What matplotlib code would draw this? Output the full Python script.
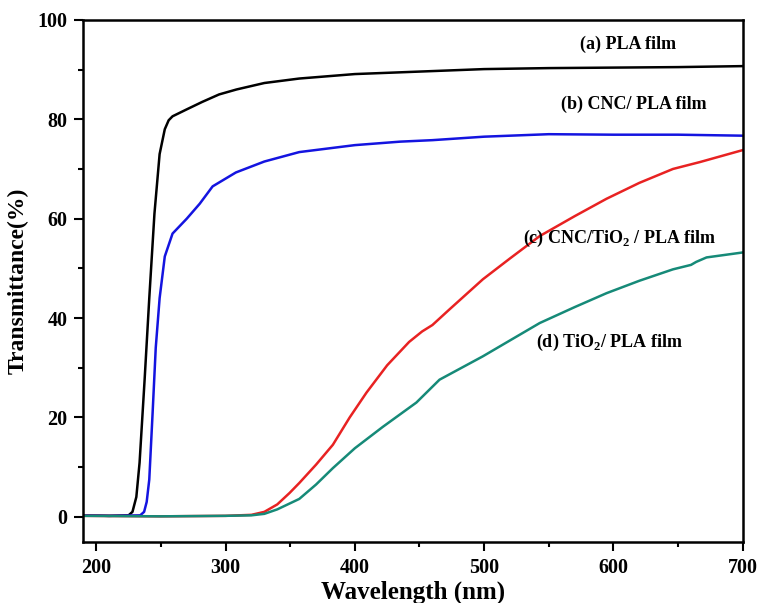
import matplotlib
matplotlib.use("Agg")
import matplotlib.pyplot as plt
from matplotlib.ticker import MultipleLocator

plt.rcParams['font.family'] = 'Liberation Serif'
plt.rcParams['font.weight'] = 'bold'
plt.rcParams['mathtext.fontset'] = 'custom'
plt.rcParams['mathtext.rm'] = 'Liberation Serif:bold'

# values (wavelength nm, transmittance %)
pla_x = [190, 210, 225, 228, 231, 233.5, 237.4, 241, 245, 249, 253, 256, 259,
         270, 282, 295, 308.5, 330, 357, 400, 450, 500, 550, 600, 650, 700]
pla_y = [0.3, 0.2, 0.3, 1.0, 4.0, 10.9, 27.6, 44, 61, 73, 78, 79.8, 80.6,
         82, 83.5, 85, 86, 87.3, 88.2, 89.1, 89.6, 90.1, 90.3, 90.4, 90.5, 90.7]

cnc_x = [190, 210, 234, 237, 239, 241, 243.6, 246, 249, 253, 259, 270, 280,
         290, 308, 330, 357, 400, 435, 460, 500, 550, 600, 650, 700]
cnc_y = [0.3, 0.2, 0.3, 1.0, 3.0, 7.5, 21, 34, 44, 52.4, 57, 60, 63,
         66.5, 69.3, 71.5, 73.4, 74.8, 75.5, 75.8, 76.5, 77.0, 76.9, 76.9, 76.7]

tio2cnc_x = [190, 250, 300, 320, 330, 340, 349.5, 357, 370, 383, 396, 409,
             425, 442, 452, 460, 473, 499, 520, 543, 570, 594.6, 620, 646,
             667, 700]
tio2cnc_y = [0.2, 0.1, 0.2, 0.4, 1.0, 2.5, 4.8, 6.8, 10.5, 14.5, 20, 25,
             30.5, 35.2, 37.3, 38.6, 41.7, 47.8, 52, 56.5, 60.5, 64, 67.2, 70,
             71.4, 73.8]

tio2_x = [190, 250, 300, 320, 330, 340, 357, 370, 383, 400, 421.6, 447.6,
          465.5, 499, 520, 543, 570, 594.6, 620, 646, 660, 664, 672, 700]
tio2_y = [0.2, 0.1, 0.2, 0.3, 0.6, 1.5, 3.6, 6.5, 9.8, 13.8, 18.1, 23,
          27.6, 32.3, 35.5, 39, 42.2, 45, 47.5, 49.8, 50.7, 51.3, 52.2, 53.2]

labels = ['(a) PLA film', '(b) CNC/ PLA film',
          '(c) CNC/TiO$_2$ / PLA film', '(d) TiO$_2$/ PLA film']
label_x = [611, 616, 605, 597]
label_y = [95, 83, 56, 35]

fig = plt.figure(figsize=(7.61, 6.03), dpi=100)
ax = fig.add_axes([0.1095, 0.1017, 0.8665, 0.8653])

ax.plot(pla_x, pla_y, color='black', lw=1.8)
ax.plot(cnc_x, cnc_y, color='#1414e0', lw=1.8)
ax.plot(tio2cnc_x, tio2cnc_y, color='#e82222', lw=1.8)
ax.plot(tio2_x, tio2_y, color='#168a78', lw=1.8)

for t, x, y in zip(labels, label_x, label_y):
    ax.text(x, y, t, ha='center', va='center', fontsize=13, fontweight='bold')

ax.set_xlim(190, 700)
ax.set_ylim(-5, 100)
ax.xaxis.set_major_locator(MultipleLocator(100))
ax.xaxis.set_minor_locator(MultipleLocator(50))
ax.yaxis.set_major_locator(MultipleLocator(20))
ax.yaxis.set_minor_locator(MultipleLocator(10))
ax.tick_params(which='major', direction='out', length=6.5, width=1.5,
               labelsize=14.5, pad=5)
ax.tick_params(which='minor', direction='out', length=3.5, width=1.5)
for s in ax.spines.values():
    s.set_linewidth(1.8)

ax.set_xlabel('Wavelength (nm)', fontsize=18, fontweight='bold', labelpad=2)
ax.set_ylabel('Transmittance(%)', fontsize=17, fontweight='bold', labelpad=6)

fig.savefig('out.png', dpi=100)
